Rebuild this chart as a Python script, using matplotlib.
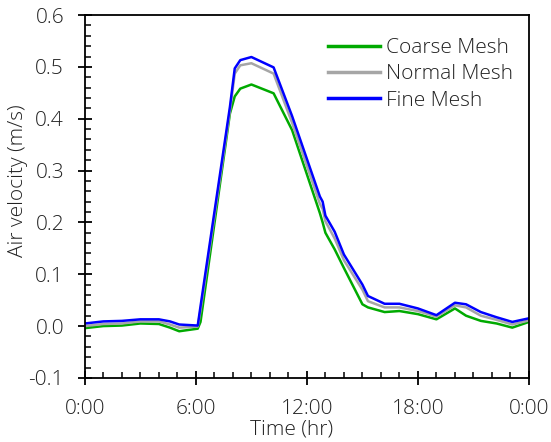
import matplotlib
matplotlib.use("Agg")
import matplotlib.pyplot as plt
from matplotlib.ticker import MultipleLocator, FixedLocator

plt.rcParams['font.family'] = ['Open Sans', 'DejaVu Sans']
plt.rcParams['font.weight'] = 'light'

# time in hours
hours = [0, 1, 2, 3, 4, 4.6, 5.1, 6.1, 6.25, 7.84, 8.1, 8.4, 9.0, 10.2, 11.2,
         12.7, 12.85, 13.0, 13.5, 14.0, 15.0, 15.3, 16.2, 17.0, 18.0, 19.0,
         20.0, 20.6, 21.4, 22.25, 23.1, 24]

coarse = [-0.004, 0.000, 0.001, 0.005, 0.004, -0.003, -0.010, -0.005, 0.008, 0.410,
          0.443, 0.458, 0.466, 0.449, 0.378, 0.218, 0.200, 0.180, 0.148, 0.112,
          0.042, 0.036, 0.027, 0.029, 0.023, 0.013, 0.034, 0.020, 0.010, 0.005,
          -0.003, 0.008]

normal = [0.000, 0.004, 0.005, 0.009, 0.009, 0.003, -0.003, -0.001, 0.030, 0.415,
          0.487, 0.503, 0.507, 0.487, 0.392, 0.236, 0.226, 0.202, 0.169, 0.127,
          0.070, 0.048, 0.036, 0.036, 0.029, 0.018, 0.040, 0.036, 0.020, 0.012,
          0.003, 0.011]

fine = [0.005, 0.009, 0.010, 0.013, 0.013, 0.009, 0.003, 0.001, 0.038, 0.423,
        0.497, 0.513, 0.519, 0.499, 0.405, 0.250, 0.240, 0.213, 0.182, 0.138,
        0.080, 0.058, 0.043, 0.043, 0.034, 0.021, 0.045, 0.042, 0.027, 0.017,
        0.008, 0.015]

series_names = ['Coarse Mesh', 'Normal Mesh', 'Fine Mesh']
xtick_labels = ['0:00', '6:00', '12:00', '18:00', '0:00']

text_color = '#222222'
fs = 15

fig = plt.figure(figsize=(5.51, 4.42), dpi=100)
ax = fig.add_axes([0.154, 0.145, 0.806, 0.821])

ax.plot(hours, coarse, color='#00AA00', lw=1.8, label=series_names[0])
ax.plot(hours, normal, color='#A6A6A6', lw=1.8, label=series_names[1])
ax.plot(hours, fine, color='#0000FF', lw=1.8, label=series_names[2])

ax.set_xlim(0, 24)
ax.set_ylim(-0.1, 0.6)
ax.xaxis.set_major_locator(FixedLocator([0, 6, 12, 18, 24]))
ax.set_xticklabels(xtick_labels)
ax.xaxis.set_minor_locator(MultipleLocator(1))
ax.yaxis.set_major_locator(MultipleLocator(0.1))
ax.yaxis.set_minor_locator(MultipleLocator(0.02))
ax.yaxis.set_major_formatter(matplotlib.ticker.FormatStrFormatter('%.1f'))

ax.tick_params(which='major', direction='inout', length=10, width=1.3,
               labelsize=fs, color='black', labelcolor=text_color)
ax.tick_params(axis='x', which='major', pad=10)
ax.tick_params(axis='y', which='major', pad=10)
ax.tick_params(which='minor', direction='in', length=4.5, width=1.1)

for s in ax.spines.values():
    s.set_linewidth(1.3)

ax.set_xlabel('Time (hr)', fontsize=fs, color=text_color, fontweight='light')
ax.set_ylabel('Air velocity (m/s)', fontsize=fs, color=text_color, fontweight='light')
ax.xaxis.set_label_coords(0.466, -0.114)
ax.yaxis.set_label_coords(-0.128, 0.543)

leg = ax.legend(loc='upper left', bbox_to_anchor=(0.528, 0.959), frameon=False,
                fontsize=fs, handlelength=2.5, handletextpad=0.3,
                labelspacing=0.3, borderaxespad=0.0)
for t in leg.get_texts():
    t.set_color(text_color)
for line in leg.get_lines():
    line.set_linewidth(2.5)

fig.savefig('out.png', dpi=100)
